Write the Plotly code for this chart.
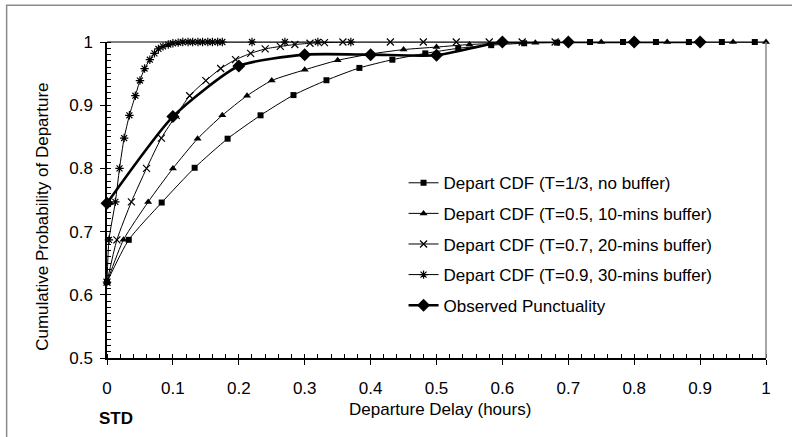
import plotly.graph_objects as go

# ---- data ----
sq_x = [0, 0.033, 0.083, 0.133, 0.183, 0.233, 0.283, 0.333, 0.383, 0.433, 0.483,
        0.533, 0.583, 0.633, 0.683, 0.733, 0.783, 0.833, 0.883, 0.933, 0.983]
sq_y = [0.62, 0.687, 0.746, 0.801, 0.847, 0.884, 0.916, 0.9395, 0.959, 0.972, 0.982,
        0.99, 0.995, 0.998, 0.999, 1.0, 1.0, 1.0, 1.0, 1.0, 1.0]

tr_x = [0, 0.025, 0.0625, 0.1, 0.1375, 0.175, 0.2125, 0.25, 0.30, 0.35, 0.40, 0.45,
        0.50, 0.55, 0.60, 0.65, 0.70, 0.75, 0.80, 0.85, 0.90, 0.95, 1.0]
tr_y = [0.62, 0.687, 0.747, 0.80, 0.847, 0.884, 0.915, 0.939, 0.956, 0.971, 0.981, 0.988,
        0.992, 0.996, 0.998, 0.999, 1.0, 1.0, 1.0, 1.0, 1.0, 1.0, 1.0]

x7_x = [0, 0.015, 0.037, 0.06, 0.0825, 0.105, 0.1255, 0.15, 0.1725, 0.195, 0.218, 0.24,
        0.263, 0.285, 0.308, 0.33, 0.358, 0.43, 0.48, 0.53, 0.58, 0.63, 0.68]
x7_y = [0.62, 0.687, 0.747, 0.80, 0.848, 0.884, 0.915, 0.939, 0.958, 0.972, 0.982, 0.989,
        0.993, 0.996, 0.998, 0.999, 1.0, 1.0, 1.0, 1.0, 1.0, 1.0, 1.0]

x9_x = [0, 0.003, 0.0127, 0.019, 0.026, 0.034, 0.043, 0.05, 0.057, 0.065, 0.072, 0.078,
        0.085, 0.093, 0.1, 0.108, 0.115, 0.123, 0.13, 0.138, 0.145, 0.153, 0.16, 0.168,
        0.175, 0.22, 0.27, 0.32, 0.37]
x9_y = [0.62, 0.687, 0.747, 0.80, 0.848, 0.884, 0.915, 0.939, 0.958, 0.972, 0.982, 0.989,
        0.993, 0.996, 0.998, 0.999, 1.0, 1.0, 1.0, 1.0, 1.0, 1.0, 1.0, 1.0,
        1.0, 1.0, 1.0, 1.0, 1.0]

obs_x = [0, 0.1, 0.2, 0.3, 0.4, 0.5, 0.6, 0.7, 0.8, 0.9]
obs_y = [0.745, 0.882, 0.962, 0.98, 0.98, 0.979, 1.0, 1.0, 1.0, 1.0]

names = ["Depart CDF (T=1/3, no buffer)",
         "Depart CDF (T=0.5, 10-mins buffer)",
         "Depart CDF (T=0.7, 20-mins buffer)",
         "Depart CDF (T=0.9, 30-mins buffer)",
         "Observed Punctuality"]

x_ticks = [0, 0.1, 0.2, 0.3, 0.4, 0.5, 0.6, 0.7, 0.8, 0.9, 1]
y_ticks = [0.5, 0.6, 0.7, 0.8, 0.9, 1]

FONT = "Liberation Sans, Arial, sans-serif"
FS = 17

fig = go.Figure()

series = [
    (sq_x, sq_y, dict(symbol="square", size=6, color="black"), 1),
    (tr_x, tr_y, dict(symbol="triangle-up", size=7, color="black"), 1),
    (x7_x, x7_y, dict(symbol="x-thin-open", size=7, color="black",
                      line=dict(width=1.2, color="black")), 1),
    (x9_x, x9_y, dict(symbol="asterisk-open", size=7, color="black",
                      line=dict(width=1.2, color="black")), 1),
    (obs_x, obs_y, dict(symbol="diamond", size=10, color="black"), 2.6),
]
for i, (xs, ys, mk, lw) in enumerate(series):
    fig.add_trace(go.Scatter(
        x=xs, y=ys, name=names[i], mode="lines+markers",
        line=dict(color="black", width=lw, shape="spline", smoothing=0.6),
        marker=mk, cliponaxis=False, legendgroup=f"g{i}"))

fig.update_layout(
    width=792, height=437,
    margin=dict(l=107, r=26, t=42, b=79),
    paper_bgcolor="white", plot_bgcolor="white",
    font=dict(family=FONT, size=FS, color="black"),
    showlegend=True,
    legend=dict(x=0.45, y=0.61, xanchor="left", yanchor="top",
                bgcolor="rgba(0,0,0,0)", tracegroupgap=5.5, itemwidth=30,
                font=dict(family=FONT, size=FS, color="black")),
    xaxis=dict(range=[0, 1], tickvals=x_ticks, showgrid=False, zeroline=False,
               showline=True, linecolor="black", linewidth=1.5,
               ticks="outside", ticklen=5, tickcolor="black",
               ticklabelstandoff=9,
               minor=dict(dtick=0.02, ticks="inside", ticklen=4, tickcolor="black")),
    yaxis=dict(range=[0.5, 1], tickvals=y_ticks, showgrid=False, zeroline=False,
               showline=True, linecolor="black", linewidth=1.5,
               ticks="outside", ticklen=5, tickcolor="black",
               ticklabelstandoff=4,
               minor=dict(dtick=0.01, ticks="inside", ticklen=4, tickcolor="black")),
    shapes=[
        # outer chart frame (left/top visible)
        dict(type="rect", xref="paper", yref="paper",
             x0=-0.1523, x1=1.2, y0=-0.5, y1=1.116,
             line=dict(color="#8a8a8a", width=1.5), layer="below"),
        # top plot border
        dict(type="line", xref="paper", yref="paper", x0=0, x1=1, y0=1, y1=1,
             line=dict(color="black", width=1.2)),
        # right plot border
        dict(type="line", xref="paper", yref="paper", x0=1, x1=1, y0=0, y1=1,
             line=dict(color="#8a8a8a", width=1.5)),
    ],
    annotations=[
        dict(text="Cumulative Probability of Departure", xref="paper", yref="paper",
             x=-0.099, y=0.446, textangle=-90, showarrow=False,
             xanchor="center", yanchor="middle", font=dict(size=FS)),
        dict(text="Departure Delay (hours)", xref="paper", yref="paper",
             x=0.505, y=-0.163, showarrow=False,
             xanchor="center", yanchor="middle", font=dict(size=FS)),
        dict(text="<b>STD</b>", xref="paper", yref="paper",
             x=0.013, y=-0.192, showarrow=False,
             xanchor="center", yanchor="middle", font=dict(size=FS)),
    ],
)

fig.write_html("out.html")
